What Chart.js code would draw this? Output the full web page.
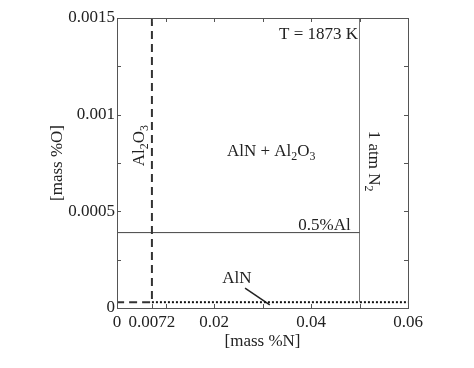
<!DOCTYPE html>
<html>
<head>
<meta charset="utf-8">
<script src="https://cdn.jsdelivr.net/npm/chart.js@4"></script>
<style>
  html, body { margin: 0; padding: 0; background: #fff; }
  #wrap { width: 474px; height: 368px; }
</style>
</head>
<body>
<div id="wrap"><canvas id="phaseChart"></canvas></div>
<script>
// tick labels
var nTicks = [0, 0.0072, 0.02, 0.04, 0.06];
var nTickLabels = ['0', '0.0072', '0.02', '0.04', '0.06'];
var nMinorTicks = [0.01, 0.03, 0.05];
var oTicks = [0, 0.0005, 0.001, 0.0015];
var oTickLabels = ['0', '0.0005', '0.001', '0.0015'];
var oMinorTicks = [0.00025, 0.00075, 0.00125];

// boundary lines  (N, O)
var al2o3N = [0.0072, 0.0072, 0];
var al2o3O = [0.0015, 0.00003, 0.00003];
var alnN = [0.0072, 0.06];
var alnO = [0.00003, 0.00003];
var al05N = [0, 0.05];
var al05O = [0.00039, 0.00039];
var n2N = [0.05, 0.05];
var n2O = [0.00003, 0.0015];
var pointerN = [0.0264, 0.0315];
var pointerO = [0.000103, 0.000016];

function pts(xs, ys) {
    return xs.map(function (x, i) { return { x: x, y: ys[i] }; });
}

var serif = '"Liberation Serif", "Times New Roman", serif';
var FS = 17;

// text with subscripts: parts = [[text, isSub], ...]
function richText(ctx, parts, x, y, size, align) {
    var w = 0;
    parts.forEach(function (p) {
        ctx.font = (p[1] ? size * 0.7 : size) + 'px ' + serif;
        w += ctx.measureText(p[0]).width;
    });
    var cx = align === 'right' ? x - w : (align === 'left' ? x : x - w / 2);
    ctx.textAlign = 'left';
    ctx.textBaseline = 'middle';
    parts.forEach(function (p) {
        ctx.font = (p[1] ? size * 0.7 : size) + 'px ' + serif;
        ctx.fillText(p[0], cx, p[1] ? y + size * 0.3 : y);
        cx += ctx.measureText(p[0]).width;
    });
}

var framePlugin = {
    id: 'frame',
    afterDatasetsDraw: function (chart) {
        var ctx = chart.ctx, a = chart.chartArea;
        var xs = chart.scales.x, ys = chart.scales.y;
        ctx.save();
        ctx.strokeStyle = '#555';
        ctx.lineWidth = 1;
        ctx.strokeRect(a.left + 0.5, a.top + 0.5, a.right - a.left, a.bottom - a.top);
        ctx.beginPath();
        nTicks.concat(nMinorTicks).forEach(function (v) {
            var px = Math.round(xs.getPixelForValue(v)) + 0.5;
            ctx.moveTo(px, a.bottom); ctx.lineTo(px, a.bottom - 4);
            ctx.moveTo(px, a.top); ctx.lineTo(px, a.top + 4);
        });
        oTicks.concat(oMinorTicks).forEach(function (v) {
            var py = Math.round(ys.getPixelForValue(v)) + 0.5;
            ctx.moveTo(a.left, py); ctx.lineTo(a.left + 4, py);
            ctx.moveTo(a.right, py); ctx.lineTo(a.right - 4, py);
        });
        ctx.stroke();

        ctx.fillStyle = '#222';
        var X = function (v) { return xs.getPixelForValue(v); };
        var Y = function (v) { return ys.getPixelForValue(v); };

        richText(ctx, [['T = 1873 K', false]], X(0.0497), Y(0.001417), FS, 'right');
        richText(ctx, [['AlN + Al', false], ['2', true], ['O', false], ['3', true]], X(0.0318), Y(0.000807), FS, 'center');
        richText(ctx, [['0.5%Al', false]], X(0.0428), Y(0.000428), FS, 'center');
        richText(ctx, [['AlN', false]], X(0.0247), Y(0.00015), FS, 'center');

        // rotated labels
        ctx.save();
        ctx.translate(X(0.0047), Y(0.00084));
        ctx.rotate(-Math.PI / 2);
        richText(ctx, [['Al', false], ['2', true], ['O', false], ['3', true]], 0, 0, FS, 'center');
        ctx.restore();

        ctx.save();
        ctx.translate(X(0.0528), Y(0.00076));
        ctx.rotate(Math.PI / 2);
        richText(ctx, [['1 atm N', false], ['2', true]], 0, 0, FS, 'center');
        ctx.restore();

        // axis titles
        ctx.save();
        ctx.translate(58, (a.top + a.bottom) / 2);
        ctx.rotate(-Math.PI / 2);
        richText(ctx, [['[mass %O]', false]], 0, 0, FS, 'center');
        ctx.restore();
        richText(ctx, [['[mass %N]', false]], (a.left + a.right) / 2, 342, FS, 'center');
        ctx.restore();
    }
};

var lineStyle = function (color, width, dash) {
    return {
        showLine: true, borderColor: color, borderWidth: width, borderDash: dash,
        pointRadius: 0, fill: false, tension: 0
    };
};

var ctx = document.getElementById('phaseChart').getContext('2d');
var phaseChart = new Chart(ctx, {
    type: 'scatter',
    data: {
        datasets: [
            Object.assign({ label: 'Al2O3', data: pts(al2o3N, al2o3O) }, lineStyle('#333', 2, [8, 5])),
            Object.assign({ label: 'AlN', data: pts(alnN, alnO) }, lineStyle('#111', 2, [2, 2])),
            Object.assign({ label: '0.5%Al', data: pts(al05N, al05O) }, lineStyle('#444', 1, [])),
            Object.assign({ label: '1 atm N2', data: pts(n2N, n2O) }, lineStyle('#777', 1, [])),
            Object.assign({ label: 'pointer', data: pts(pointerN, pointerO) }, lineStyle('#222', 1.5, []))
        ]
    },
    options: {
        responsive: true,
        maintainAspectRatio: false,
        animation: false,
        layout: { padding: { left: 0, top: 18, right: 66, bottom: 0 } },
        plugins: {
            legend: { display: false },
            tooltip: { enabled: false }
        },
        scales: {
            x: {
                type: 'linear', min: 0, max: 0.06,
                grid: { display: false, drawTicks: false },
                border: { display: false },
                afterFit: function (s) { s.height = 60; },
                afterBuildTicks: function (s) {
                    s.ticks = nTicks.map(function (v) { return { value: v }; });
                },
                ticks: {
                    autoSkip: false, maxRotation: 0, padding: 4,
                    color: '#222', font: { family: serif, size: FS },
                    callback: function (v) { return nTickLabels[nTicks.indexOf(v)]; }
                }
            },
            y: {
                type: 'linear', min: 0, max: 0.0015,
                grid: { display: false, drawTicks: false },
                border: { display: false },
                afterFit: function (s) { s.width = 117; },
                afterBuildTicks: function (s) {
                    s.ticks = oTicks.map(function (v) { return { value: v }; });
                },
                ticks: {
                    autoSkip: false, padding: 2,
                    color: '#222', font: { family: serif, size: FS },
                    callback: function (v) { return oTickLabels[oTicks.indexOf(v)]; }
                }
            }
        }
    },
    plugins: [framePlugin]
});
</script>
</body>
</html>
